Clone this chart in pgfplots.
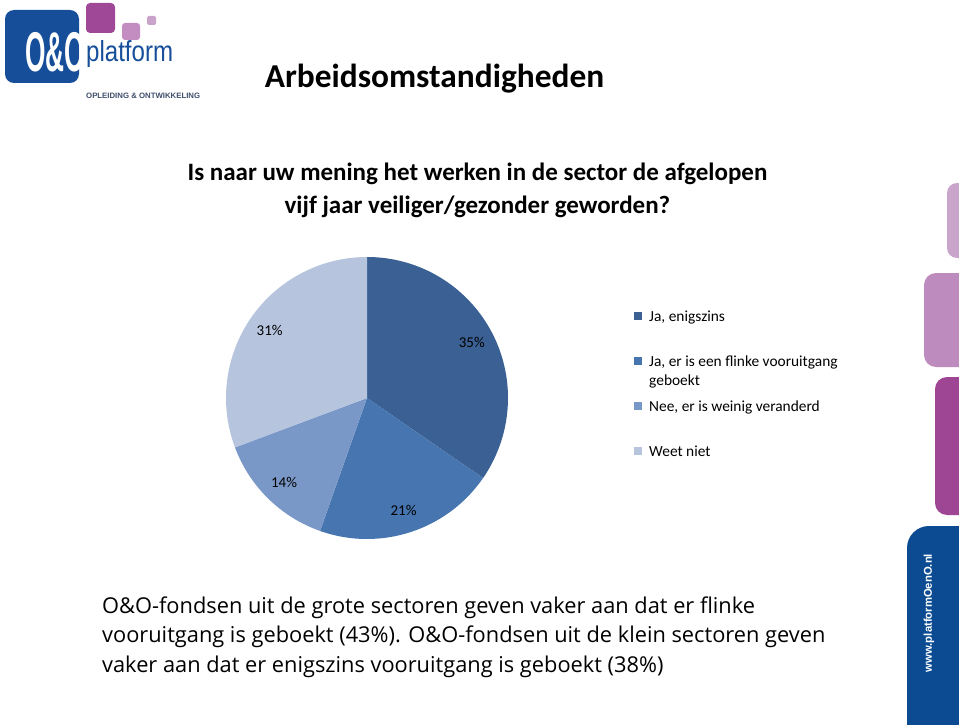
\documentclass[border=0pt]{standalone}
\usepackage{pgfplots}
\pgfplotsset{compat=1.18}
\usepackage{pgfplotstable}
\usepackage{fontspec}
\setmainfont{Carlito}
\newfontfamily\opensans{Open Sans}
\newfontfamily\libsans{Liberation Sans}

\definecolor{sliceA}{RGB}{59,96,148}
\definecolor{sliceB}{RGB}{70,117,175}
\definecolor{sliceC}{RGB}{122,152,199}
\definecolor{sliceD}{RGB}{182,196,222}
\definecolor{logoblue}{RGB}{22,78,154}
\definecolor{logogray}{RGB}{62,78,108}
\definecolor{pinkA}{RGB}{160,72,152}
\definecolor{pinkB}{RGB}{196,141,194}
\definecolor{pinkC}{RGB}{201,163,201}
\definecolor{stripA}{RGB}{201,165,203}
\definecolor{stripB}{RGB}{189,139,189}
\definecolor{stripC}{RGB}{158,69,147}
\definecolor{stripD}{RGB}{12,75,145}

% pie slices, clockwise from 12 o'clock
\pgfplotstableread{
label value colour
35 34.6 sliceA
21 20.8 sliceB
14 13.9 sliceC
31 30.7 sliceD
}\piedata

\newcommand\pielabelfont{\fontsize{15}{17}\selectfont}

\begin{document}
\begin{tikzpicture}
\useasboundingbox (0,0) rectangle (959pt,-725pt);
\clip (0,0) rectangle (959pt,-725pt);

\begin{scope}[x=1pt,y=-1pt]
  % logo
  \fill[logoblue, rounded corners=9pt] (5,10) rectangle (79,83);
  \begin{scope}
    \clip[rounded corners=9pt] (5,10) rectangle (79,83);
    \node[white, anchor=base west, inner sep=0, xscale=0.47,
      font=\libsans\bfseries\fontsize{56}{56}\selectfont] at (25,72) {O\&O};
  \end{scope}
  \fill[pinkA, rounded corners=4pt] (86,3) rectangle (115,33);
  \fill[pinkB, rounded corners=3pt] (122,23) rectangle (140,40);
  \fill[pinkC, rounded corners=1.5pt] (147,16) rectangle (156,25);
  \node[logoblue, anchor=base west, inner sep=0, xscale=0.83,
    font=\libsans\fontsize{29}{29}\selectfont] at (86,62) {platform};
  \node[logogray, anchor=base west, inner sep=0,
    font=\libsans\bfseries\fontsize{7.8}{7.8}\selectfont] at (86,99) {OPLEIDING \& ONTWIKKELING};

  % right-hand strip
  \fill[stripA, rounded corners=10pt] (947,183) rectangle (975,258);
  \fill[stripB, rounded corners=12pt] (924,273) rectangle (975,367);
  \fill[stripC, rounded corners=12pt] (935,377) rectangle (975,515);
  \fill[stripD, rounded corners=22pt] (907,526) rectangle (980,760);
  \node[white, rotate=90, inner sep=0,
    font=\libsans\bfseries\fontsize{11.3}{11.3}\selectfont] at (929,613) {www.platformOenO.nl};

  % titles
  \node[anchor=base, inner sep=0, font=\bfseries\fontsize{33.4}{33.4}\selectfont]
    at (434.5,88) {Arbeidsomstandigheden};
  \node[anchor=base, inner sep=0, font=\bfseries\fontsize{25}{25}\selectfont]
    at (477.5,180) {Is naar uw mening het werken in de sector de afgelopen};
  \node[anchor=base, inner sep=0, font=\bfseries\fontsize{25}{25}\selectfont]
    at (477.5,213) {vijf jaar veiliger/gezonder geworden?};

  % legend
  \fill[sliceA] (634,312) rectangle (642,320);
  \fill[sliceB] (634,357) rectangle (642,365);
  \fill[sliceC] (634,402) rectangle (642,410);
  \fill[sliceD] (634,447) rectangle (642,455);
  \begin{scope}[every node/.style={anchor=base west, inner sep=0, font=\fontsize{15.4}{15.4}\selectfont}]
    \node at (649,321) {Ja, enigszins};
    \node at (649,366) {Ja, er is een flinke vooruitgang};
    \node at (649,385) {geboekt};
    \node at (649,411) {Nee, er is weinig veranderd};
    \node at (649,456) {Weet niet};
  \end{scope}

  % note
  \begin{scope}[every node/.style={anchor=base west, inner sep=0, font=\opensans\fontsize{21.8}{21.8}\selectfont}]
    \node at (102,613) {O\&O-fondsen uit de grote sectoren geven vaker aan dat er flinke};
    \node at (102,642.5) {vooruitgang is geboekt (43\%). O\&O-fondsen uit de klein sectoren geven};
    \node at (102,672) {vaker aan dat er enigszins vooruitgang is geboekt (38\%)};
  \end{scope}
\end{scope}

\begin{axis}[at={(367pt,-398pt)}, anchor=center, x=141pt, y=141pt,
  xmin=-1, xmax=1, ymin=-1, ymax=1, hide axis, clip=false]
  \pgfplotstablegetrowsof{\piedata}
  \pgfmathtruncatemacro\lastrow{\pgfplotsretval-1}
  \def\cum{0}
  \pgfplotsforeachungrouped \i in {0,...,\lastrow}{
    \pgfplotstablegetelem{\i}{value}\of\piedata \let\val\pgfplotsretval
    \pgfplotstablegetelem{\i}{colour}\of\piedata \let\col\pgfplotsretval
    \pgfplotstablegetelem{\i}{label}\of\piedata \let\lab\pgfplotsretval
    \pgfmathsetmacro\a{90-3.6*\cum}
    \pgfmathsetmacro\b{90-3.6*(\cum+\val)}
    \pgfmathsetmacro\m{(\a+\b)/2}
    \pgfmathsetmacro\ax{cos(\a)}
    \pgfmathsetmacro\ay{sin(\a)}
    \pgfmathsetmacro\lx{0.84*cos(\m)}
    \pgfmathsetmacro\ly{0.84*sin(\m)}
    \edef\temp{%
      \noexpand\fill[\col] (axis cs:0,0) -- (axis cs:\ax,\ay)
        arc[start angle=\a, end angle=\b, radius=141pt] -- cycle;
      \noexpand\node[font=\noexpand\pielabelfont] at (axis cs:\lx,\ly) {\lab\noexpand\%};
    }
    \temp
    \pgfmathsetmacro\cum{\cum+\val}
  }
\end{axis}
\end{tikzpicture}
\end{document}
